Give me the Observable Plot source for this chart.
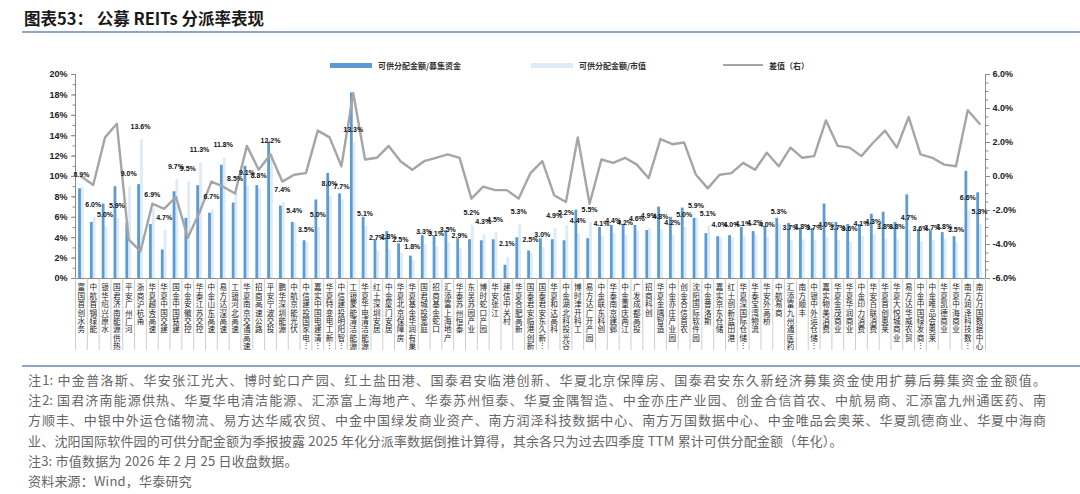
<!DOCTYPE html>
<html><head><meta charset="utf-8">
<script src="https://cdn.jsdelivr.net/npm/d3@7"></script>
<script src="https://cdn.jsdelivr.net/npm/@observablehq/plot@0.6"></script>
<style>
body{margin:0;background:#fff;width:1080px;height:494px;overflow:hidden;position:relative;font-family:"Noto Sans CJK SC",sans-serif;}
#title{position:absolute;left:24px;top:6px;font-size:16.5px;font-weight:bold;color:#1a1a1a;white-space:nowrap;}
.hr{position:absolute;left:22px;right:0;height:2px;background:#8DA5C3;}
#chart{position:absolute;left:0;top:40px;}
.lg{position:absolute;top:60px;height:10px;font-size:8px;font-weight:bold;color:#333;display:flex;align-items:center;white-space:nowrap;}
.sw{width:42px;height:5px;margin-right:6px;}
#notes{position:absolute;left:28px;top:370px;font-size:13px;color:#666;line-height:20.2px;letter-spacing:0.2px;}
.j{width:1018px;text-align:justify;text-align-last:justify;letter-spacing:0;}
</style>
</head><body>
<div id="title">图表53： 公募 REITs 分派率表现</div>
<div class="hr" style="top:31px"></div>
<div class="lg" style="left:330px"><div class="sw" style="background:#5B9BD5"></div>可供分配金额/募集资金</div>
<div class="lg" style="left:531px"><div class="sw" style="background:#DDEBF7"></div>可供分配金额/市值</div>
<div class="lg" style="left:723px"><div class="sw" style="background:#A5A5A5;height:2px;width:40px"></div>差值（右）</div>
<div id="chart"></div>
<div class="hr" style="top:365px"></div>
<div id="notes">
<div class="j">注1: 中金普洛斯、华安张江光大、博时蛇口产园、红土盐田港、国泰君安临港创新、华夏北京保障房、国泰君安东久新经济募集资金使用扩募后募集资金金额值。</div>
<div class="j">注2: 国君济南能源供热、华夏华电清洁能源、汇添富上海地产、华泰苏州恒泰、华夏金隅智造、中金亦庄产业园、创金合信首农、中航易商、汇添富九州通医药、南</div>
<div class="j">方顺丰、中银中外运仓储物流、易方达华威农贸、中金中国绿发商业资产、南方润泽科技数据中心、南方万国数据中心、中金唯品会奥莱、华夏凯德商业、华夏中海商</div>
<div>业、沈阳国际软件园的可供分配金额为季报披露 2025 年化分派率数据倒推计算得，其余各只为过去四季度 TTM 累计可供分配金额（年化）。</div>
<div>注3: 市值数据为 2026 年 2 月 25 日收盘数据。</div>
<div>资料来源：Wind，华泰研究</div>
</div>
<script>
const categories = ["富国首创水务","中航首钢绿能","银华绍兴原水","国君济南能源供热","平安广州广河","浙商沪杭甬","华夏越秀高速","华夏中国交建","国金中国铁建","中金安徽交控","华泰江苏交控","中金山东高速","易方达深高速","工银河北高速","华夏南京交通高速","招商高速公路","平安宁波交投","鹏华深圳能源","中航京能光伏","中信建投国家电︙","嘉实中国电建清︙","华夏特变电工新︙","中信建投明阳智︙","工银蒙能清洁能源","华夏华电清洁能源","红土深圳安居","中金厦门安居","华夏北京保障房","华夏基金华润有巢","国君城投宽庭","招商基金蛇口","汇添富上海地产","华泰苏州恒泰","东吴苏园产业","博时蛇口产园","华安张江","建信中关村","华夏合肥高新","国泰君安临港创新","国泰君安东久新︙","华夏和达高科","中金湖北科投光谷","博时津开科工","易方达广开产园","中金联东科创","华泰南京建邺","中金重庆两江","广发成都高投","招商科创","华夏金隅智造","中金亦庄产业园","创金合信首农","沈阳国际软件园","中金普洛斯","嘉实京东仓储","红土创新盐田港","华夏深国际仓储︙","华泰宝湾物流","华安外高桥","中航易商","汇添富九州通医药","南方顺丰","中银中外运仓储︙","嘉实物美消费","华夏金茂商业","华夏华润商业","中金印力消费","华安百联消费","华夏首创奥莱","华夏大悦城商业","易方达华威农贸","中金中国绿发商︙","中金唯品会奥莱","华夏凯德商业","华夏中海商业","南方润泽科技数︙","南方万国数据中心"];
// 可供分配金额/募集资金 (%)
const raiseYield = [8.8,5.5,7.3,9.0,5.4,9.2,5.3,2.8,8.5,5.9,9.1,6.4,11.1,7.4,11.0,9.1,13.4,7.1,5.5,3.7,7.7,10.3,8.3,18.2,6.0,3.8,4.6,3.4,2.2,4.2,4.1,4.7,3.9,3.8,3.7,3.8,1.3,4.0,2.7,3.9,3.8,3.7,6.7,3.9,5.0,5.2,5.3,5.2,4.7,7.0,6.0,6.9,5.9,4.4,4.1,4.2,5.0,4.6,5.1,5.9,5.4,4.9,4.9,7.3,5.5,5.3,5.3,6.3,6.5,5.5,8.2,4.8,4.7,4.5,4.1,10.5,8.4];
// 可供分配金额/市值 (%)
const mktYield = [8.9,6.0,5.0,5.9,9.0,13.6,6.9,4.7,9.7,9.5,11.3,6.7,11.8,8.5,9.1,8.8,12.2,7.4,5.4,3.5,5.0,8.0,7.7,13.3,5.1,2.7,2.8,2.5,1.8,3.3,3.1,3.5,2.9,5.2,4.3,4.5,2.1,5.3,2.5,3.0,4.9,5.2,4.4,5.5,4.1,4.4,4.2,4.6,4.9,4.8,4.2,5.0,5.9,5.1,4.0,4.0,4.1,4.2,4.0,5.3,3.7,3.8,3.7,4.0,3.7,3.6,4.1,4.3,3.8,3.8,4.7,3.6,3.7,3.8,3.5,6.6,5.3];
// 差值（右）(%)
const spread = [0.0,-0.5,2.3,3.1,-3.7,-4.4,-1.6,-1.9,-1.2,-3.6,-2.1,-0.3,-0.6,-1.0,1.8,0.4,1.3,-0.3,0.1,0.2,2.7,2.3,0.6,4.9,1.0,1.1,1.8,0.9,0.4,0.9,1.1,1.3,1.1,-1.3,-0.6,-0.8,-0.8,-1.3,0.2,0.9,-1.1,-1.5,2.3,-1.6,1.0,0.8,1.1,0.7,-0.1,2.2,1.9,2.0,0.1,-0.7,0.1,0.2,0.8,0.4,1.4,0.6,1.7,1.1,1.2,3.3,1.8,1.7,1.2,2.0,2.7,1.7,3.5,1.3,1.1,0.7,0.6,3.9,3.1];
const leftTicks = [0,2,4,6,8,10,12,14,16,18,20];
const rightTicks = [-6,-4,-2,0,2,4,6];

const rows = categories.map((c,i)=>({c, a: raiseYield[i], b: mktYield[i], d: spread[i]}));
const RMIN = -6, RMAX = 6, LMAX = 20;
const toLeft = v => (v - RMIN) * LMAX / (RMAX - RMIN);
const fromLeft = v => v * (RMAX - RMIN) / LMAX + RMIN;
const W = 1080, H = 313, ML = 75, MR = 95, MT = 34, MB = 75;
const bw = (W - ML - MR) / categories.length;
const barW = 2.8;
const axisColor = "#8c8c8c";
// extent of the category separators below the frame, in left-axis units
const sepBottom = -(MB - 3) * LMAX / (H - MT - MB);

const chart = Plot.plot({
  width: W, height: H, marginLeft: ML, marginRight: MR, marginTop: MT, marginBottom: MB,
  style: {fontFamily: "'Liberation Sans', Arial, sans-serif", fontSize: "9px", color: "#222", background: "transparent"},
  x: {type: "band", domain: categories, padding: 0, axis: null},
  y: {domain: [0, LMAX]},
  marks: [
    Plot.barY(rows, {x: "c", y: "b", fill: "#DDEBF7", insetLeft: bw/2, insetRight: bw/2 - barW}),
    Plot.barY(rows, {x: "c", y: "a", fill: "#5B9BD5", insetLeft: bw/2 - barW, insetRight: bw/2}),
    Plot.ruleY([0], {stroke: axisColor}),
    Plot.ruleX([categories[0]], {dx: -bw/2, stroke: axisColor}),
    Plot.ruleX([categories[categories.length-1]], {dx: bw/2, stroke: axisColor}),
    Plot.ruleX(categories, {x: d => d, dx: -bw/2, y1: 0, y2: sepBottom, stroke: "#c0c0c0", strokeWidth: 0.8}),
    Plot.ruleX([categories[categories.length-1]], {dx: bw/2, y1: 0, y2: sepBottom, stroke: "#c0c0c0", strokeWidth: 0.8}),
    Plot.lineY(rows, {x: "c", y: d => toLeft(d.d), stroke: "#A5A5A5", strokeWidth: 2.4}),
    Plot.text(rows, {x: "c", y: "b", text: d => d.b.toFixed(1) + "%", dy: -13, fontSize: 7, fontWeight: "bold", fill: "#111", letterSpacing: "-0.2px"}),
    Plot.text(categories, {x: d => d, text: d => [...d].join("\n"), frameAnchor: "bottom", lineAnchor: "top", dy: 6, fontSize: 7.6, lineHeight: 1.1, fontFamily: "Noto Sans CJK SC", fill: "#222"}),
    Plot.axisY({anchor: "left", ticks: leftTicks, tickFormat: d => d + "%", tickSize: 4, tickPadding: 4, stroke: axisColor, label: null, fontWeight: "bold"}),
    Plot.axisY({anchor: "left", ticks: d3.range(0, LMAX + 1, 1), tickFormat: () => "", tickSize: 2.5, stroke: axisColor, label: null}),
    Plot.axisY({anchor: "right", ticks: rightTicks.map(toLeft), tickFormat: v => fromLeft(v).toFixed(1) + "%", tickSize: 4, tickPadding: 3, stroke: axisColor, label: null, fontWeight: "bold"}),
    Plot.axisY({anchor: "right", ticks: d3.range(RMIN, RMAX + 0.01, 0.5).map(toLeft), tickFormat: () => "", tickSize: 2.5, stroke: axisColor, label: null})
  ]
});
document.getElementById("chart").appendChild(chart);
</script>
</body></html>
